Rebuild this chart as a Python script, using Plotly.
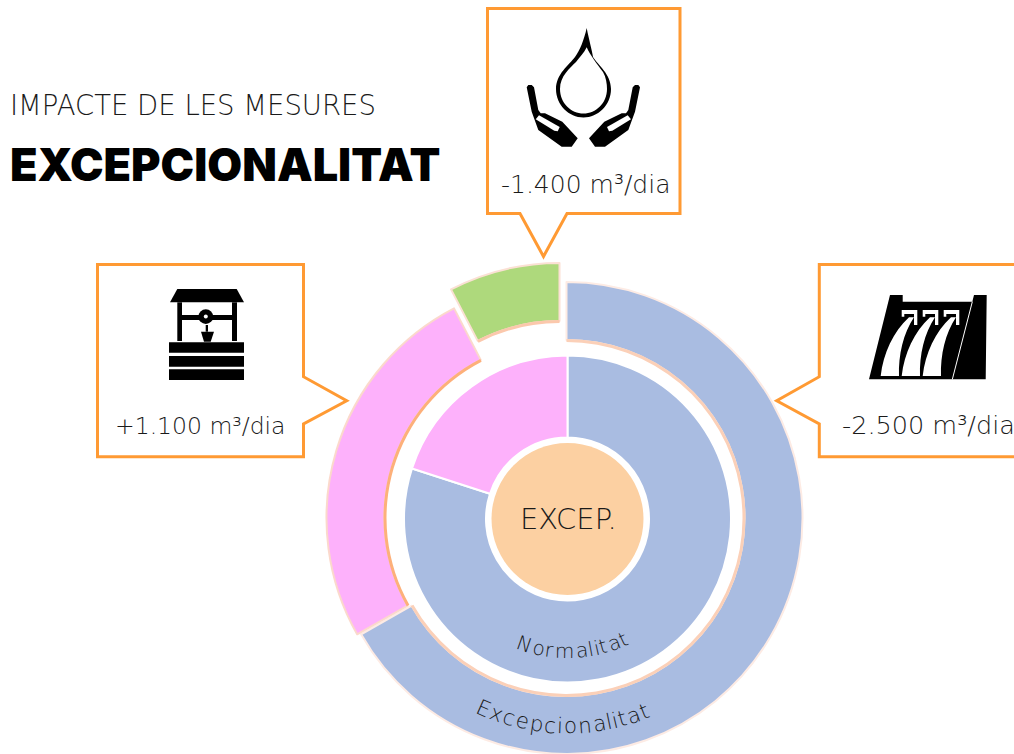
import math
import plotly.graph_objects as go

W, H = 1014, 754
CX, CY = 567.5, 519

# rings
outer_labels = ["Excepcionalitat", "Pous", "Estalvi"]
outer_values = [66.8, 25.6, 7.6]
outer_colors = ["#a9bce1", "#fdb1fb", "#aed97c"]
outer_lines = ["#fdebe4", "#fbd9cc", "#fbe0d4"]
outer_edges = ["#fbd0b8", "#fdb07a", "#fbc8ac"]
outer_center = [(566.5, 518), (562.5, 518), (559.5, 499)]

inner_labels = ["Normalitat", "Pous"]
inner_values = [80, 20]
inner_colors = ["#a9bce1", "#fdb1fb"]

FONT = "DejaVu Sans"
ORANGE = "#ff9a33"
TEXT = "#1a1a1a"

callout_texts = ["-1.400 m³/dia", "+1.100 m³/dia", "-2.500 m³/dia"]
callout_pos = [(585, 184), (200, 426), (928, 425)]
callout_size = [25, 23.5, 25.5]

# rough advance widths (em) for the curved labels
ADV = {"N": .84, "E": .70, "x": .60, "c": .60, "e": .65, "p": .70, "i": .28, "o": .68,
       "n": .70, "a": .64, "l": .28, "t": .42, "r": .44, "m": 1.08}


def domain(cx, cy, r):
    return dict(x=[(cx - r) / W, (cx + r) / W], y=[max(1 - (cy + r) / H, 0), 1 - (cy - r) / H])


def pie(values, labels, colors, cx, cy, r, hole, line_colors=None, line_width=0):
    return go.Pie(
        values=values, labels=labels, sort=False, direction="clockwise", rotation=0,
        domain=domain(cx, cy, r), hole=hole, textinfo="none", showlegend=False, hoverinfo="skip",
        marker=dict(colors=colors, line=dict(color=line_colors or "rgba(0,0,0,0)", width=line_width)),
    )


def curved_label(text, radius, center_deg, size):
    # bottom-of-ring text, one rotated letter at a time
    out = []
    total = sum(ADV[c] for c in text) * size
    pos = -total / 2
    for c in text:
        adv = ADV[c] * size
        a = center_deg + math.degrees((pos + adv / 2) / radius)
        x = CX + radius * math.sin(math.radians(a))
        y = CY + radius * math.cos(math.radians(a))
        out.append(dict(x=x, y=y, text=c, textangle=-a, showarrow=False, xanchor="center", yanchor="middle",
                        font=dict(family=FONT, size=size, color=TEXT, weight=200)))
        pos += adv
    return out


def poly(pts, scale=3, ox=0, oy=0, mirror=None):
    # polygon from zoomed-crop coordinates
    s = []
    for i, (x, y) in enumerate(pts):
        if mirror is not None:
            x = mirror - x
        s.append(f"{'M' if i == 0 else 'L'}{ox + x / scale:.1f},{oy + y / scale:.1f}")
    return " ".join(s) + " Z"


def solid(path, color="black"):
    return dict(type="path", path=path, xref="x", yref="y", fillcolor=color, line=dict(width=0))


fig = go.Figure()
fig.add_trace(go.Scatter(x=[0, W], y=[H, 0], mode="none", showlegend=False, hoverinfo="skip"))

# outer ring, each slice has its own offset
for i in range(len(outer_values)):
    colors = ["rgba(0,0,0,0)"] * 3
    lines = ["rgba(0,0,0,0)"] * 3
    edge = ["rgba(0,0,0,0)"] * 3
    colors[i] = outer_colors[i]
    lines[i] = outer_lines[i]
    edge[i] = outer_edges[i]
    cx, cy = outer_center[i]
    fig.add_trace(pie(outer_values, outer_labels, colors, cx, cy, 236, 178 / 236, lines, 2))
    fig.add_trace(pie(outer_values, outer_labels, edge, cx, cy, 179, 176 / 179))

# inner ring and centre
fig.add_trace(pie(inner_values, inner_labels, inner_colors, CX, CY, 163.5, 81.5 / 163.5, ["white", "white"], 2))
fig.add_trace(pie([1], ["EXCEP."], ["#fcd0a2"], CX, CY, 76, 0))

shapes = []

# callouts
box = dict(type="path", xref="x", yref="y", line=dict(color=ORANGE, width=3))
shapes.append(dict(box, path="M487.5,8.5 L680,8.5 L680,213.5 L567,213.5 L543.5,256.5 L520,213.5 L487.5,213.5 Z"))
shapes.append(dict(box, path="M97.5,264.5 L303.5,264.5 L303.5,376.7 L346.7,400.7 L303.5,424 L303.5,456.7 L97.5,456.7 Z"))
shapes.append(dict(box, path="M1020,264.5 L819.3,264.5 L819.3,376.7 L776.7,400.7 L819.3,424 L819.3,456.7 L1020,456.7"))

# drop and hands
shapes.append(solid("M586.7,28 C584,40 580,50 575,57 C569,65 556,74 556,89 C556,105 569,117.5 583.5,117.5 "
                    "C598,117.5 611,105 611,89 C611,74 598,65 593,57 C592,50 589,40 586.7,28 Z "
                    "M586.7,47.3 C590,55 597,64 603,72 C606,77 607,84 607,89 C607,103 596,113.5 583.5,113.5 "
                    "C571,113.5 560,103 560,89 C560,76 570,68 576,62 C580,57 584,53 586.7,47.3 Z"))
hand = [(5, 22), (10, 15), (20, 15), (27, 22), (40, 90), (47, 100), (60, 100), (112, 125), (158, 175),
        (140, 200), (110, 200), (40, 150), (20, 95)]
slot = [(42, 106), (104, 141), (98, 154), (88, 152), (32, 118)]
for m in (None, 350):
    shapes.append(solid(poly(hand, ox=525, oy=80, mirror=m)))
    shapes.append(solid(poly(slot, ox=525, oy=80, mirror=m), "white"))

# well
well = dict(ox=90, oy=260)
shapes.append(solid(poly([(240, 127), (262, 87), (440, 87), (462, 127)], **well)))
for x0, x1 in ((262, 276), (426, 441)):
    shapes.append(solid(poly([(x0, 127), (x1, 127), (x1, 243), (x0, 243)], **well)))
shapes.append(solid(poly([(276, 165), (426, 165), (426, 180), (276, 180)], **well)))
shapes.append(solid(poly([(347, 195), (354, 195), (354, 215), (347, 215)], **well)))
shapes.append(solid(poly([(333, 215), (372, 215), (362, 245), (342, 245)], **well)))
for y0, y1 in ((247, 278), (288, 320), (328, 360)):
    shapes.append(solid(poly([(237, y0), (462, y0), (462, y1), (237, y1)], **well)))
shapes.append(dict(type="circle", xref="x", yref="y", x0=198.4, x1=213.2, y0=309.3, y1=324.0, fillcolor="black", line=dict(width=0)))
shapes.append(dict(type="circle", xref="x", yref="y", x0=203.8, x1=207.8, y0=314.6, y1=318.6, fillcolor="white", line=dict(width=0)))

# dam
dam = dict(ox=865, oy=290)
shapes.append(solid(poly([(12, 268), (75, 15), (113, 15), (113, 35), (322, 35), (327, 15), (365, 15), (362, 268)], **dam)))
for dx in (0, 63, 126):
    ox = 865 + dx / 3
    fall = (f"M{ox + 47 / 3:.1f},{290 + 258 / 3:.1f} C{ox + 55 / 3:.1f},{290 + 190 / 3:.1f} {ox + 85 / 3:.1f},{290 + 125 / 3:.1f} "
            f"{ox + 132 / 3:.1f},{290 + 82 / 3:.1f} L{ox + 147 / 3:.1f},{290 + 82 / 3:.1f} "
            f"C{ox + 115 / 3:.1f},{290 + 130 / 3:.1f} {ox + 100 / 3:.1f},{290 + 195 / 3:.1f} {ox + 102 / 3:.1f},{290 + 258 / 3:.1f} Z")
    shapes.append(solid(fall, "white"))
    shapes.append(solid(poly([(110, 60), (157, 60), (157, 105), (147, 105), (147, 72), (118, 72), (118, 80), (110, 80)], ox=ox, oy=290), "white"))
shapes.append(dict(type="line", xref="x", yref="y", x0=865 + 322 / 3, y0=290 + 35 / 3, x1=865 + 262 / 3, y1=290 + 268 / 3,
                   line=dict(color="white", width=1)))

# texts
light = dict(family=FONT, color=TEXT, weight=200)
annotations = [
    dict(x=8, y=105, text="IMPACTE DE LES MESURES", xanchor="left", showarrow=False, font=dict(light, size=27.5)),
    dict(x=8, y=164, text="EXCEPCIONALITAT", xanchor="left", showarrow=False,
         font=dict(family="Inter", size=45, color="black", weight=900)),
    dict(x=568, y=519, text="EXCEP.", showarrow=False, font=dict(light, size=29)),
]
for txt, (x, y), size in zip(callout_texts, callout_pos, callout_size):
    annotations.append(dict(x=x, y=y, text=txt, showarrow=False, font=dict(light, size=size)))
annotations += curved_label("Normalitat", 132, 2, 20)
annotations += curved_label("Excepcionalitat", 207, -1.5, 21.5)

fig.update_layout(
    width=W, height=H, margin=dict(l=0, r=0, t=0, b=0),
    paper_bgcolor="white", plot_bgcolor="rgba(0,0,0,0)",
    xaxis=dict(range=[0, W], visible=False, fixedrange=True),
    yaxis=dict(range=[H, 0], visible=False, fixedrange=True),
    shapes=shapes, annotations=annotations,
)

fig.write_html("out.html", config={"displayModeBar": False}, post_script="document.body.style.margin='0';")
